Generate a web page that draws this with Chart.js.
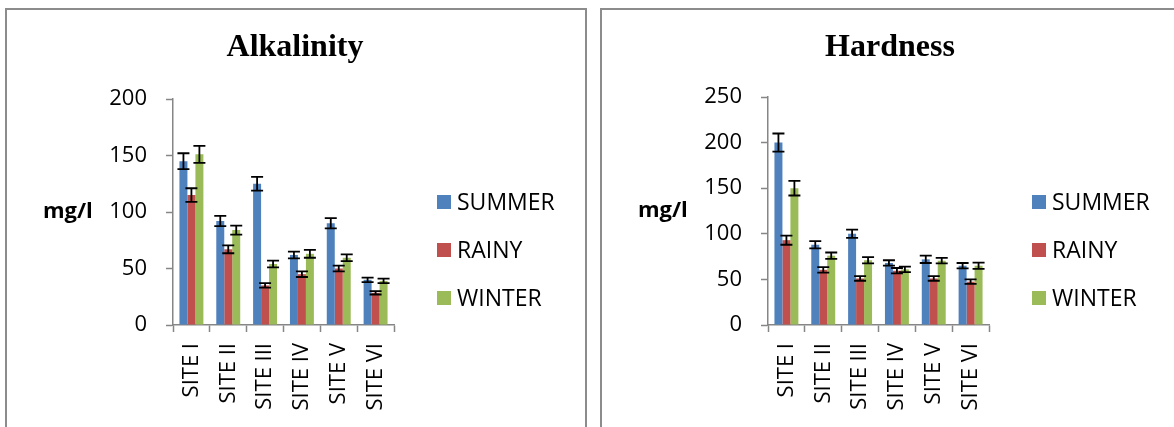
<!DOCTYPE html>
<html><head><meta charset="utf-8">
<script src="https://cdn.jsdelivr.net/npm/chart.js@4.4.1/dist/chart.umd.min.js"></script>
<style>
html,body{margin:0;padding:0;background:#fff;overflow:hidden;width:1174px;height:427px;}
.box{position:absolute;border:2px solid #8c8c8c;box-sizing:border-box;}
canvas{position:absolute;top:0;}
</style></head><body>
<div class="box" style="left:5px;top:8px;width:582px;height:500px;"></div>
<div class="box" style="left:600px;top:8px;width:600px;height:500px;"></div>
<canvas id="c1" width="590" height="427" style="left:0px"></canvas>
<canvas id="c2" width="590" height="427" style="left:595px"></canvas>
<script>
const sites = ['SITE I', 'SITE II', 'SITE III', 'SITE IV', 'SITE V', 'SITE VI'];
const seasons = ['SUMMER', 'RAINY', 'WINTER'];
const yAxisLabel = 'mg/l';

const alkSummer = [145, 92, 125, 62, 90, 40];
const alkRainy = [115, 67, 35, 45, 50, 28.5];
const alkWinter = [151, 84, 54, 63, 59.5, 39];
const alkSummerErr = [7, 4.5, 6, 3, 4.5, 2];
const alkRainyErr = [6, 3.5, 2, 2.5, 2.5, 1.5];
const alkWinterErr = [7.5, 4, 3, 3.5, 3, 2];

const hardSummer = [200, 88, 100, 68, 72, 65];
const hardRainy = [93, 60.5, 51, 59.5, 51, 47.5];
const hardWinter = [150, 76, 71, 61, 70.5, 65];
const hardSummerErr = [10, 4, 4.5, 3, 4, 3];
const hardRainyErr = [5, 3, 2.5, 3, 2.5, 2.5];
const hardWinterErr = [8, 3.5, 3.5, 3, 3, 3.5];

const alkTickMax = 200;
const hardTickMax = 250;
const tickStep = 50;

const colors = ['#4F81BD', '#C0504D', '#9BBB59'];

const extras = {
  id: 'extras',
  afterDatasetsDraw(chart) {
    const ctx = chart.ctx, y = chart.scales.y;
    ctx.save();
    ctx.strokeStyle = '#000';
    ctx.lineWidth = 1.8;
    chart.data.datasets.forEach((ds, i) => {
      const meta = chart.getDatasetMeta(i);
      meta.data.forEach((bar, j) => {
        const v = ds.data[j], e = ds.errors[j];
        const x = bar.x;
        const yt = y.getPixelForValue(v + e), yb = y.getPixelForValue(v - e);
        ctx.beginPath();
        ctx.moveTo(x, yt); ctx.lineTo(x, yb);
        ctx.moveTo(x - 6, yt); ctx.lineTo(x + 6, yt);
        ctx.moveTo(x - 6, yb); ctx.lineTo(x + 6, yb);
        ctx.stroke();
      });
    });
    ctx.restore();
  },
  afterDraw(chart) {
    const ctx = chart.ctx, a = chart.chartArea;
    ctx.save();
    ctx.fillStyle = '#000';
    ctx.font = 'bold 22px "Open Sans"';
    ctx.textBaseline = 'middle';
    ctx.textAlign = 'left';
    ctx.fillText(yAxisLabel, a.left - 130, (a.top + a.bottom) / 2);
    ctx.font = '23px "Open Sans"';
    chart.data.datasets.forEach((ds, i) => {
      const cy = 202 + i * 48;
      ctx.fillStyle = ds.backgroundColor;
      ctx.fillRect(a.right + 43, cy - 7, 14, 14);
      ctx.fillStyle = '#000';
      ctx.fillText(ds.label, a.right + 63, cy + 1);
    });
    ctx.restore();
  }
};

function makeChart(id, title, series, errs, yMax, titlePadBottom) {
  return new Chart(document.getElementById(id), {
    type: 'bar',
    data: {
      labels: sites,
      datasets: seasons.map((s, i) => ({
        label: s, data: series[i], errors: errs[i],
        backgroundColor: colors[i], borderWidth: 0,
        categoryPercentage: 0.65, barPercentage: 1
      }))
    },
    options: {
      responsive: false, animation: false, events: [],
      layout: { padding: { left: 0, right: 0, top: 0, bottom: 0 } },
      plugins: {
        legend: { display: false },
        tooltip: { enabled: false },
        title: {
          display: true, text: title, color: '#000',
          font: { family: '"Liberation Serif", "Times New Roman", serif', size: 32, weight: 'bold', lineHeight: 1.2 },
          padding: { top: 28.8, bottom: titlePadBottom }
        }
      },
      scales: {
        x: {
          offset: true,
          grid: { offset: true, display: true, drawOnChartArea: false, drawTicks: true, tickLength: 7, color: '#868686', tickColor: '#868686', tickWidth: 1.5 },
          border: { display: true, color: '#868686', width: 1.5 },
          ticks: { autoSkip: false, minRotation: 90, maxRotation: 90, padding: 11, color: '#000', font: { family: '"Open Sans"', size: 22 } },
          afterFit(s) { s.height = 102; }
        },
        y: {
          min: 0, max: yMax,
          ticks: { stepSize: tickStep, padding: 19, color: '#000', font: { family: '"Open Sans"', size: 22 } },
          grid: { drawOnChartArea: false, drawTicks: true, tickLength: 7, color: '#868686', tickColor: '#868686', tickWidth: 1.5 },
          border: { display: true, color: '#868686', width: 1.5 },
          afterFit(s) { s.width = 173; }
        },
        legendSpace: {
          type: 'linear', position: 'right', display: true,
          grid: { display: false, drawTicks: false }, ticks: { display: false }, border: { display: false },
          afterFit(s) { s.width = 196; }
        }
      }
    },
    plugins: [extras]
  });
}

makeChart('c1', 'Alkalinity', [alkSummer, alkRainy, alkWinter], [alkSummerErr, alkRainyErr, alkWinterErr], alkTickMax, 31.8);
makeChart('c2', 'Hardness', [hardSummer, hardRainy, hardWinter], [hardSummerErr, hardRainyErr, hardWinterErr], hardTickMax, 29.8);
</script>
</body></html>
